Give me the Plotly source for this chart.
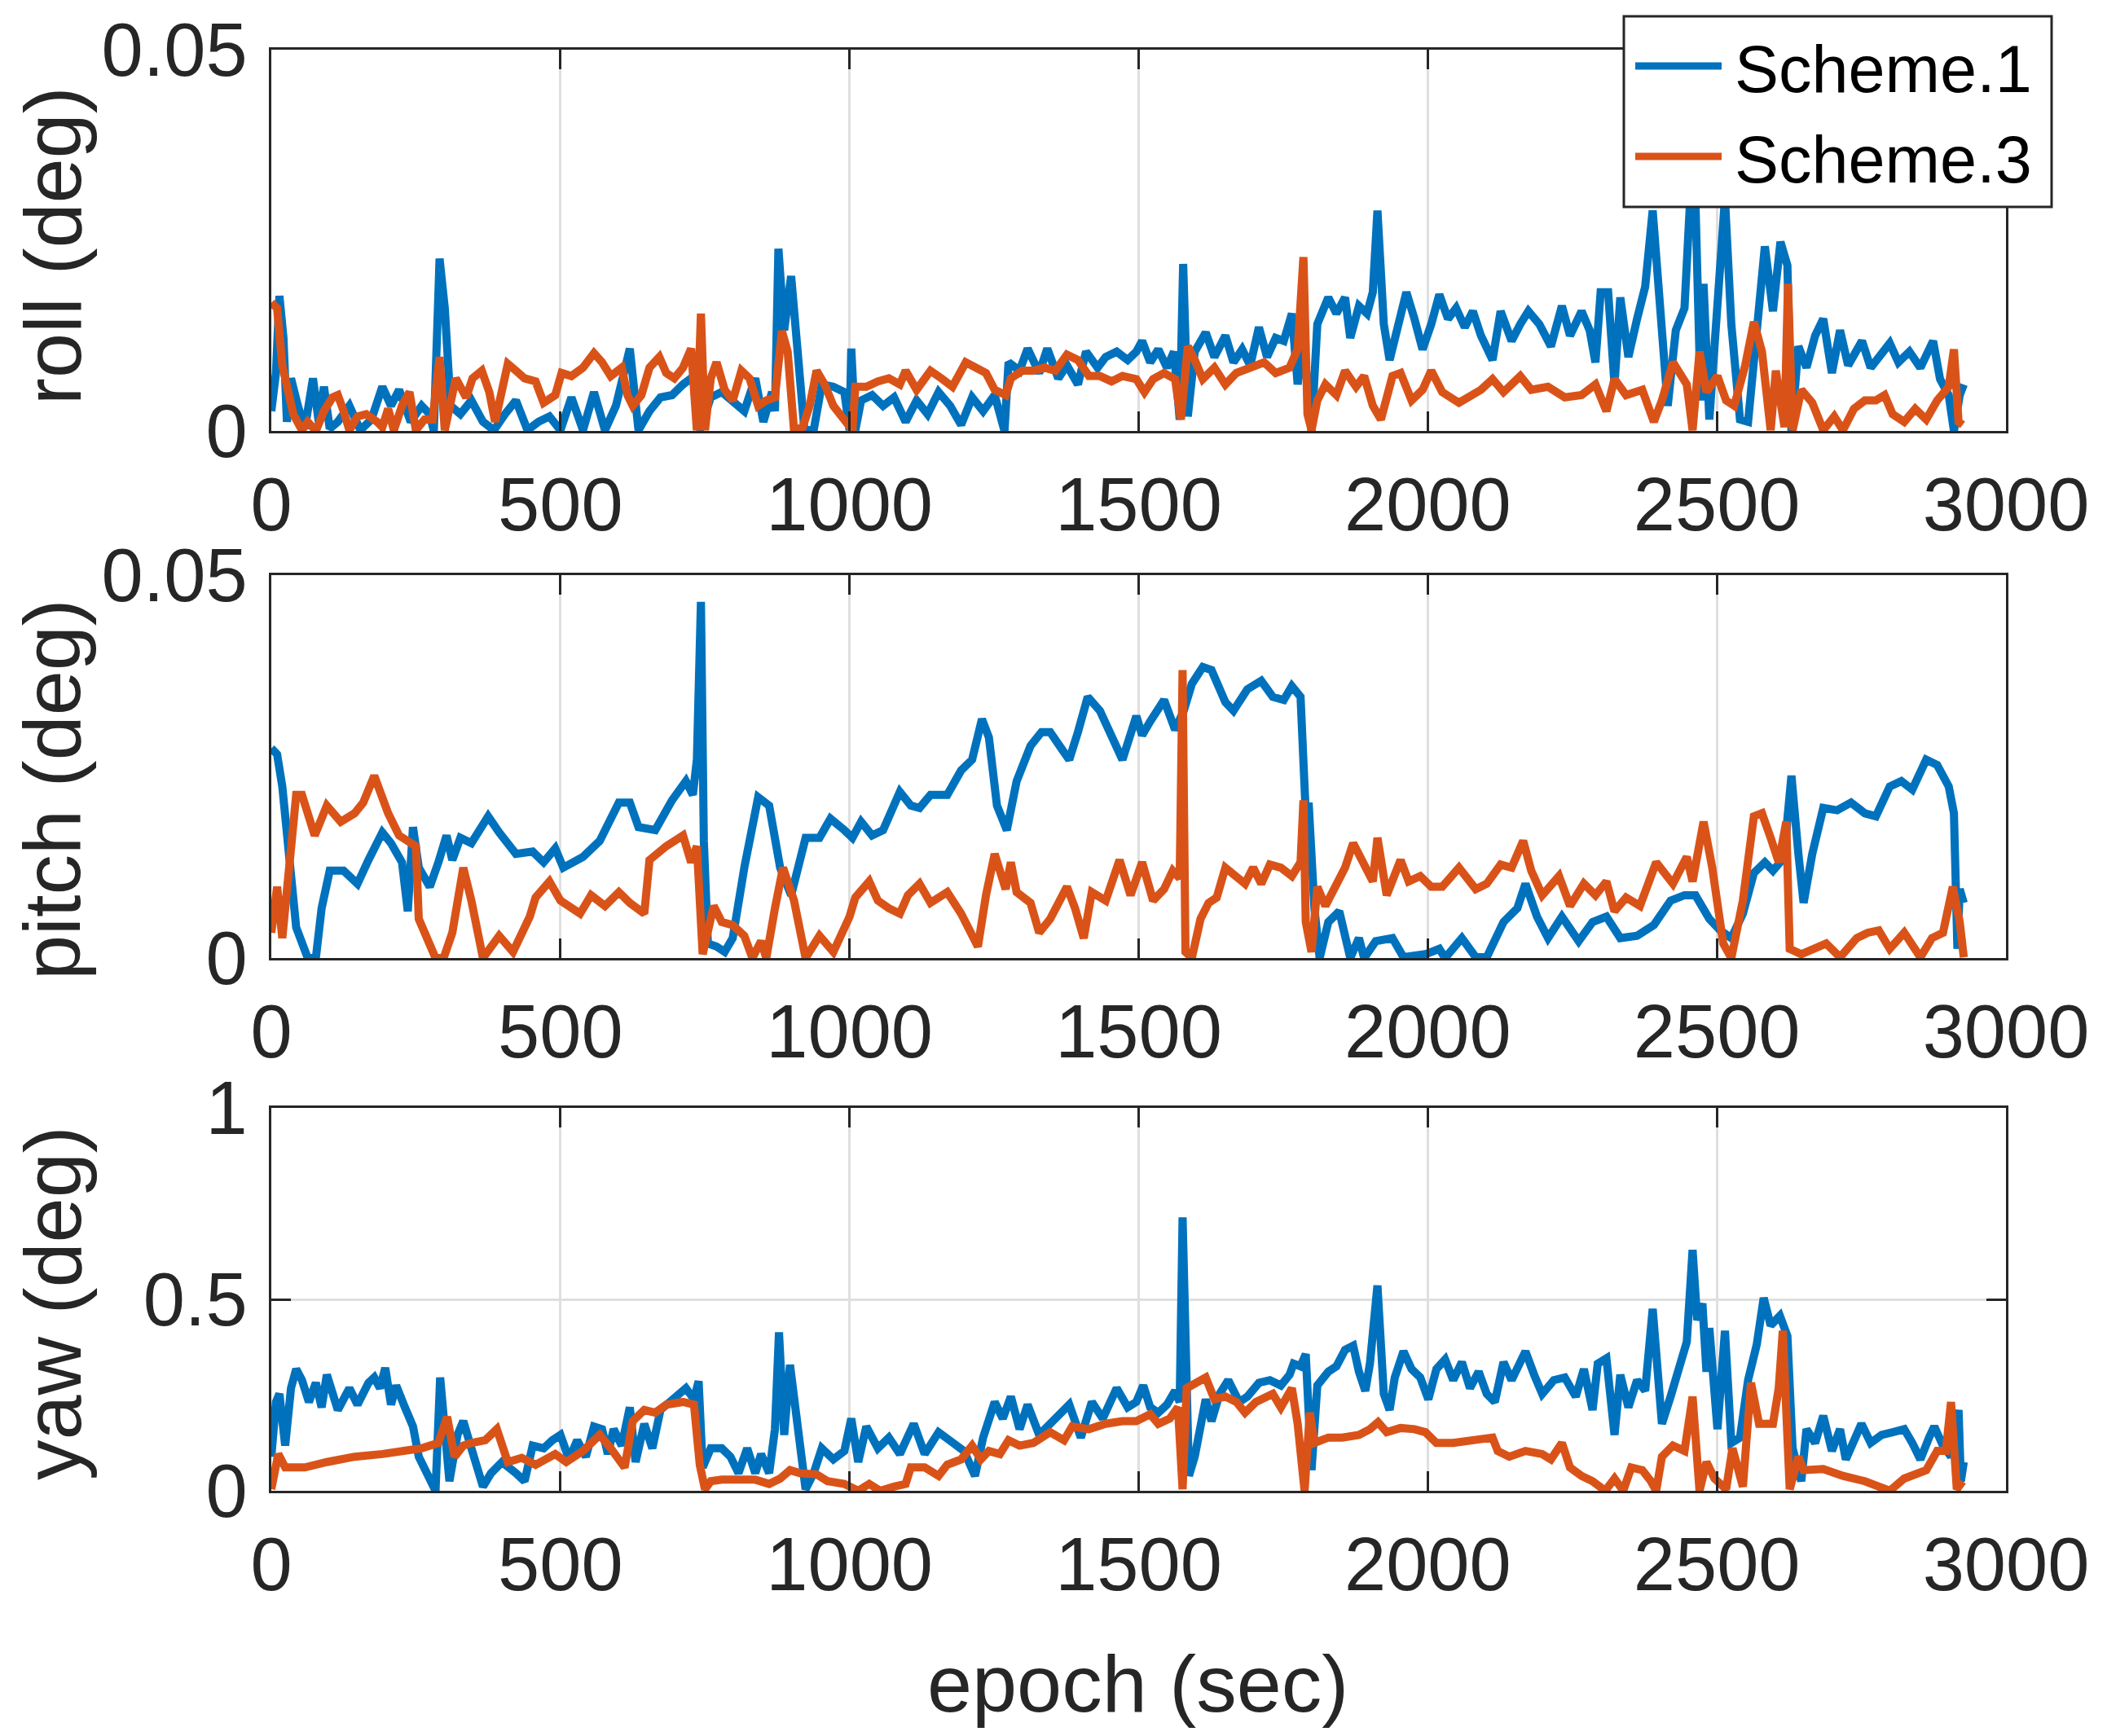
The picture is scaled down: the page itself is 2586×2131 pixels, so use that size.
import plotly.graph_objects as go
from plotly.subplots import make_subplots

# (epoch sec, value)
# roll / pitch values are in 1e-3 deg, yaw values in deg

roll_s1 = [(0, 2.6), (8, 7.6), (14, 17.7), (21, 12.2), (27, 1.2), (34, 6.9), (46, 3.3), (58, 0.3), (72, 6.9),
           (82, 1.2), (91, 5.8), (101, 0.3), (115, 1.2), (135, 3.3), (154, 0.1), (173, 1.5), (192, 5.8),
           (207, 3.3), (221, 5.4), (241, 1.2), (260, 3.3), (274, 2.2), (281, 0), (291, 22.6), (300, 16.1),
           (310, 3.3), (327, 2.2), (346, 4.0), (366, 1.2), (385, 0.1), (404, 2.2), (423, 4.0), (443, 0.1),
           (462, 1.2), (481, 1.9), (500, 0.1), (519, 4.4), (539, 0.1), (558, 5.1), (577, 0.1), (596, 3.3),
           (620, 10.8), (635, 0.1), (654, 2.6), (673, 4.4), (693, 4.7), (712, 6.1), (731, 7.2), (741, 0.1),
           (760, 4.4), (779, 5.1), (798, 4.0), (818, 2.6), (837, 6.9), (851, 1.2), (866, 5.1), (871, 2.6),
           (877, 23.9), (887, 13.2), (899, 20.3), (909, 10.4), (922, 0.1), (938, 0.1), (952, 6.1), (972, 5.8),
           (991, 5.1), (1000, 0.1), (1003, 10.8), (1010, 0.1), (1020, 4.0), (1039, 4.7), (1058, 3.3),
           (1077, 4.4), (1097, 1.2), (1116, 4.0), (1135, 2.2), (1154, 5.1), (1174, 3.3), (1193, 0.8),
           (1212, 4.4), (1231, 2.6), (1251, 4.7), (1268, 0), (1275, 9.0), (1294, 7.9), (1308, 10.8),
           (1328, 7.6), (1342, 10.8), (1361, 6.9), (1376, 8.6), (1395, 6.1), (1409, 10.4), (1429, 8.3),
           (1443, 9.7), (1462, 10.4), (1481, 9.3), (1496, 10.4), (1506, 11.8), (1520, 9.0), (1534, 10.7),
           (1549, 8.3), (1561, 10.4), (1571, 1.5), (1577, 21.9), (1585, 1.9), (1597, 10.4), (1616, 12.9),
           (1631, 9.7), (1650, 12.5), (1664, 9.0), (1679, 10.7), (1693, 8.6), (1708, 13.6), (1722, 9.7),
           (1737, 12.2), (1751, 11.8), (1765, 15.4), (1775, 6.1), (1785, 11.8), (1799, 0), (1809, 14.0),
           (1828, 17.5), (1842, 15.4), (1857, 17.5), (1866, 12.2), (1881, 16.4), (1895, 15.4), (1905, 18.2),
           (1913, 28.9), (1924, 14.0), (1934, 9.3), (1948, 14.0), (1963, 18.2), (1977, 14.7), (1991, 10.7),
           (2006, 14.0), (2020, 17.9), (2035, 14.7), (2049, 16.1), (2064, 13.6), (2078, 15.7), (2092, 12.5),
           (2112, 9.3), (2126, 15.7), (2145, 11.8), (2160, 14.0), (2174, 15.7), (2193, 14.0), (2213, 11.1),
           (2232, 16.4), (2246, 12.5), (2266, 15.7), (2280, 13.2), (2290, 9.0), (2299, 18.2), (2312, 18.2),
           (2323, 6.1), (2333, 17.5), (2347, 9.7), (2362, 14.7), (2376, 18.9), (2389, 28.9), (2400, 18.9),
           (2415, 3.3), (2429, 13.2), (2444, 16.1), (2453, 29.2), (2463, 29.9), (2472, 4.0), (2477, 19.3),
           (2487, 1.5), (2496, 10.4), (2506, 19.3), (2514, 30.5), (2525, 14.0), (2540, 1.5), (2554, 1.2),
           (2569, 14.7), (2583, 24.2), (2597, 15.7), (2610, 24.8), (2622, 21.7), (2629, 0), (2641, 11.1),
           (2655, 8.3), (2670, 12.5), (2684, 14.7), (2699, 7.6), (2713, 13.2), (2727, 8.6), (2742, 10.4),
           (2751, 11.8), (2766, 8.3), (2785, 10.4), (2799, 11.5), (2814, 9.0), (2833, 10.4), (2852, 8.3),
           (2874, 11.8), (2886, 6.8), (2901, 4.7), (2910, 0), (2920, 4.7), (2927, 6.1)]

roll_s3 = [(0, 16.8), (10, 16.1), (19, 8.6), (29, 5.1), (38, 2.2), (53, 0.1), (63, 1.2), (77, 0), (91, 2.6),
           (106, 4.4), (115, 4.7), (125, 2.6), (135, 0.1), (149, 1.9), (164, 2.2), (183, 1.2), (192, 0.5),
           (202, 2.9), (212, 0.1), (226, 3.3), (239, 5.1), (250, 0.1), (265, 1.5), (279, 1.5), (291, 9.7),
           (300, 0.1), (310, 4.0), (319, 6.9), (337, 4.4), (348, 6.9), (364, 7.9), (377, 5.1), (387, 1.2),
           (396, 4.7), (409, 8.8), (423, 7.9), (438, 6.9), (457, 6.5), (471, 3.7), (491, 4.7), (502, 7.6),
           (519, 7.2), (539, 8.3), (558, 10.2), (572, 9.0), (587, 7.2), (606, 8.3), (616, 4.7), (625, 3.3),
           (640, 4.7), (654, 8.3), (671, 9.7), (683, 7.6), (697, 6.9), (712, 8.3), (726, 10.8), (736, 0.1),
           (743, 15.4), (750, 0.1), (760, 6.9), (770, 9.0), (784, 5.4), (798, 4.0), (813, 7.9), (827, 6.9),
           (842, 3.3), (856, 4.0), (871, 4.4), (883, 13.1), (893, 10.4), (904, 0.1), (919, 0.5), (931, 3.3),
           (943, 7.9), (957, 6.1), (972, 3.3), (991, 1.5), (1005, 0.1), (1010, 5.8), (1029, 5.8), (1049, 6.5),
           (1068, 6.9), (1087, 6.1), (1097, 7.9), (1116, 5.4), (1140, 7.9), (1159, 6.9), (1178, 5.8),
           (1201, 9.0), (1217, 8.3), (1236, 7.6), (1251, 5.4), (1270, 4.7), (1279, 6.9), (1299, 7.9),
           (1318, 7.9), (1337, 8.3), (1356, 7.9), (1376, 10.0), (1395, 9.3), (1414, 7.2), (1433, 7.2),
           (1453, 6.5), (1472, 7.2), (1496, 6.8), (1510, 5.1), (1525, 6.8), (1544, 7.6), (1563, 6.8),
           (1573, 1.5), (1585, 11.1), (1597, 9.3), (1611, 6.8), (1631, 8.3), (1650, 6.1), (1669, 7.6),
           (1698, 8.6), (1717, 9.0), (1737, 7.6), (1761, 8.3), (1775, 10.7), (1785, 22.8), (1792, 2.2),
           (1799, 0.1), (1809, 4.0), (1823, 6.1), (1842, 4.7), (1857, 7.9), (1876, 5.8), (1890, 7.2),
           (1905, 3.3), (1919, 1.5), (1939, 7.2), (1953, 7.6), (1972, 4.0), (1991, 5.4), (2006, 7.9),
           (2025, 5.1), (2054, 3.7), (2073, 4.7), (2092, 5.4), (2112, 6.8), (2131, 5.1), (2160, 7.2),
           (2179, 5.4), (2208, 5.8), (2237, 4.4), (2266, 4.7), (2290, 6.1), (2309, 2.6), (2323, 6.8),
           (2343, 4.7), (2371, 5.4), (2391, 1.2), (2405, 4.0), (2424, 9.0), (2448, 6.1), (2458, 0.1),
           (2470, 10.4), (2482, 5.1), (2501, 7.2), (2516, 4.0), (2530, 3.3), (2549, 8.6), (2564, 14.3),
           (2578, 10.4), (2593, 0.1), (2602, 7.9), (2617, 0.5), (2623, 19.3), (2631, 0.1), (2646, 5.4),
           (2665, 3.7), (2684, 0.1), (2703, 1.9), (2718, 0.1), (2737, 2.9), (2756, 4.0), (2775, 4.0),
           (2790, 4.7), (2804, 2.2), (2824, 1.2), (2843, 2.9), (2862, 1.5), (2881, 4.0), (2901, 5.8),
           (2910, 10.7), (2918, 1.2), (2925, 0.8)]

pitch_s1 = [(0, 27.4), (10, 26.6), (19, 22.4), (29, 15.3), (43, 4.0), (63, 0), (77, 0), (87, 6.5), (101, 11.4),
            (125, 11.4), (149, 9.7), (168, 12.8), (192, 16.4), (207, 15.0), (226, 12.5), (236, 6.1),
            (245, 17.1), (255, 11.8), (274, 9.3), (289, 12.5), (303, 16.0), (313, 12.8), (327, 15.7),
            (346, 15.0), (375, 18.5), (394, 16.4), (423, 13.6), (452, 13.9), (471, 12.5), (491, 14.3),
            (505, 11.8), (539, 13.2), (568, 15.3), (601, 20.3), (620, 20.3), (635, 17.1), (664, 16.7),
            (693, 20.6), (717, 23.1), (729, 21.3), (736, 25.9), (743, 46.5), (748, 15.3), (755, 1.9),
            (770, 1.5), (784, 0.8), (798, 2.6), (818, 11.8), (842, 21.0), (861, 19.9), (880, 11.8), (899, 8.2),
            (924, 15.7), (948, 15.7), (967, 18.2), (991, 16.7), (1005, 15.7), (1020, 17.8), (1039, 16.0),
            (1058, 16.7), (1087, 21.7), (1106, 19.9), (1121, 19.6), (1140, 21.3), (1169, 21.3), (1193, 24.5),
            (1212, 25.9), (1229, 31.2), (1241, 28.8), (1255, 19.9), (1272, 16.7), (1289, 23.1), (1313, 27.7),
            (1332, 29.5), (1347, 29.5), (1366, 27.4), (1380, 25.9), (1395, 29.5), (1412, 34.1), (1433, 32.3),
            (1453, 29.1), (1472, 25.9), (1496, 31.6), (1506, 29.1), (1520, 30.9), (1544, 33.7), (1563, 29.8),
            (1578, 32.3), (1592, 35.8), (1611, 38.0), (1626, 37.6), (1650, 33.4), (1664, 32.3), (1688, 35.1),
            (1712, 36.2), (1732, 34.1), (1751, 33.7), (1765, 35.5), (1780, 34.1), (1785, 27.4), (1789, 18.9),
            (1794, 20.3), (1804, 6.5), (1813, 0), (1828, 4.7), (1847, 6.1), (1866, 0), (1881, 2.6), (1890, 0),
            (1910, 2.2), (1939, 2.6), (1958, 0.1), (1996, 0.5), (2020, 1.2), (2030, 0), (2059, 2.6),
            (2083, 0.1), (2102, 0.1), (2131, 4.7), (2155, 6.5), (2169, 9.7), (2189, 5.4), (2208, 2.6),
            (2232, 5.4), (2261, 2.2), (2285, 4.7), (2309, 5.4), (2333, 2.6), (2362, 2.9), (2391, 4.3),
            (2420, 7.5), (2444, 8.2), (2463, 8.2), (2487, 5.1), (2506, 3.6), (2525, 2.6), (2545, 5.8),
            (2564, 11.1), (2583, 12.5), (2597, 11.4), (2617, 13.2), (2622, 18.2), (2629, 23.8), (2641, 13.6),
            (2650, 7.2), (2665, 13.6), (2684, 19.6), (2708, 19.3), (2732, 20.3), (2756, 18.9), (2775, 18.5),
            (2799, 22.4), (2819, 23.1), (2838, 22.0), (2862, 25.9), (2881, 25.2), (2901, 22.4), (2910, 18.9),
            (2916, 1.2), (2920, 9.0), (2927, 7.2)]

pitch_s3 = [(0, 3.3), (10, 9.3), (19, 2.6), (29, 10.0), (43, 21.3), (53, 21.3), (75, 16.0), (96, 19.9),
            (120, 17.8), (144, 18.9), (159, 20.3), (178, 23.8), (202, 18.9), (221, 16.0), (250, 14.6),
            (255, 5.1), (269, 2.9), (284, 0), (298, 0), (313, 3.3), (332, 11.8), (346, 7.5), (366, 0),
            (394, 2.9), (418, 0.8), (447, 5.4), (457, 7.9), (471, 9.0), (481, 10.0), (500, 7.5), (534, 5.8),
            (553, 8.2), (577, 6.8), (601, 8.6), (620, 7.2), (645, 5.8), (654, 12.8), (683, 14.6), (712, 16.0),
            (726, 12.5), (736, 14.6), (746, 0.5), (765, 6.8), (779, 4.7), (798, 4.3), (818, 2.9), (832, 0),
            (847, 2.2), (856, 0), (871, 6.5), (885, 11.8), (904, 7.5), (924, 0), (948, 2.9), (972, 0.8),
            (1000, 5.4), (1010, 7.9), (1034, 10.0), (1049, 7.5), (1068, 6.5), (1087, 5.8), (1101, 8.2),
            (1121, 9.7), (1140, 7.2), (1169, 8.6), (1193, 5.8), (1222, 1.5), (1236, 8.2), (1251, 13.6),
            (1270, 9.0), (1279, 12.5), (1289, 8.6), (1313, 7.2), (1328, 3.3), (1347, 5.1), (1376, 9.3),
            (1390, 6.5), (1405, 2.6), (1419, 8.6), (1443, 7.5), (1467, 12.8), (1486, 8.2), (1496, 10.7),
            (1506, 12.5), (1525, 7.5), (1544, 9.0), (1559, 11.4), (1571, 10.4), (1576, 37.6), (1581, 0.8),
            (1592, 0), (1607, 5.1), (1621, 7.2), (1635, 7.9), (1650, 11.8), (1669, 10.7), (1684, 9.7),
            (1698, 11.8), (1712, 9.7), (1727, 12.2), (1746, 11.8), (1765, 10.7), (1780, 12.5), (1785, 20.6),
            (1789, 4.7), (1799, 0.8), (1809, 9.3), (1823, 6.8), (1842, 9.7), (1857, 11.8), (1871, 15.0),
            (1890, 12.2), (1905, 10.0), (1913, 15.7), (1929, 8.2), (1953, 12.8), (1967, 10.0), (1987, 10.7),
            (2006, 9.3), (2025, 9.3), (2054, 11.8), (2083, 9.0), (2102, 9.7), (2126, 12.2), (2145, 11.8),
            (2165, 15.3), (2179, 11.4), (2198, 8.2), (2227, 10.7), (2246, 6.8), (2270, 9.7), (2290, 8.2),
            (2309, 10.0), (2323, 6.1), (2343, 7.9), (2367, 6.8), (2395, 12.5), (2424, 9.7), (2448, 13.2),
            (2458, 10.0), (2477, 17.8), (2492, 11.8), (2511, 1.9), (2525, 0), (2545, 7.5), (2564, 18.5),
            (2578, 18.9), (2593, 15.7), (2607, 12.5), (2620, 17.8), (2626, 1.2), (2646, 0.5), (2670, 1.2),
            (2689, 1.9), (2713, 0.1), (2742, 2.6), (2761, 3.3), (2780, 3.6), (2799, 1.2), (2824, 3.3),
            (2852, 0.1), (2872, 2.6), (2891, 3.3), (2908, 9.3), (2920, 4.7), (2927, 0.1)]

yaw_s1 = [(0, 0.089), (8, 0.232), (14, 0.253), (24, 0.118), (34, 0.268), (43, 0.318), (53, 0.289), (65, 0.232),
          (77, 0.282), (87, 0.218), (96, 0.303), (106, 0.261), (115, 0.211), (135, 0.268), (149, 0.225),
          (168, 0.282), (178, 0.296), (188, 0.268), (197, 0.321), (207, 0.225), (216, 0.275), (231, 0.218),
          (245, 0.168), (255, 0.089), (269, 0.046), (284, 0), (292, 0.296), (300, 0.125), (308, 0.025),
          (322, 0.146), (332, 0.182), (346, 0.111), (366, 0.011), (380, 0.046), (399, 0.075), (423, 0.046),
          (438, 0.025), (452, 0.118), (471, 0.111), (486, 0.132), (500, 0.146), (515, 0.082), (529, 0.132),
          (544, 0.089), (558, 0.168), (572, 0.161), (582, 0.096), (592, 0.161), (606, 0.118), (620, 0.218),
          (630, 0.075), (645, 0.175), (659, 0.111), (673, 0.211), (693, 0.239), (717, 0.268), (731, 0.239),
          (739, 0.286), (746, 0.061), (760, 0.111), (779, 0.111), (794, 0.089), (808, 0.046), (823, 0.111),
          (837, 0.046), (847, 0.096), (861, 0.046), (871, 0.161), (878, 0.414), (887, 0.146), (897, 0.329),
          (909, 0.175), (924, 0.004), (938, 0.046), (952, 0.111), (972, 0.082), (991, 0.104), (1003, 0.189),
          (1015, 0.075), (1029, 0.168), (1049, 0.111), (1068, 0.139), (1087, 0.096), (1111, 0.175),
          (1130, 0.096), (1154, 0.153), (1174, 0.132), (1198, 0.104), (1217, 0.039), (1231, 0.139),
          (1251, 0.232), (1265, 0.189), (1279, 0.246), (1294, 0.161), (1308, 0.225), (1328, 0.146),
          (1347, 0.175), (1366, 0.204), (1380, 0.225), (1400, 0.139), (1419, 0.232), (1438, 0.189),
          (1462, 0.268), (1481, 0.218), (1496, 0.232), (1508, 0.275), (1520, 0.218), (1534, 0.204),
          (1549, 0.225), (1563, 0.261), (1571, 0.232), (1576, 0.714), (1583, 0.146), (1587, 0.039),
          (1597, 0.089), (1607, 0.175), (1616, 0.239), (1626, 0.182), (1640, 0.253), (1655, 0.289),
          (1674, 0.232), (1688, 0.246), (1708, 0.282), (1727, 0.289), (1746, 0.275), (1761, 0.303),
          (1768, 0.332), (1780, 0.325), (1789, 0.357), (1799, 0.054), (1809, 0.275), (1828, 0.311),
          (1842, 0.325), (1857, 0.368), (1871, 0.379), (1881, 0.311), (1892, 0.261), (1900, 0.332),
          (1913, 0.536), (1924, 0.253), (1934, 0.211), (1943, 0.296), (1958, 0.364), (1972, 0.318),
          (1987, 0.296), (2001, 0.239), (2015, 0.318), (2030, 0.343), (2044, 0.289), (2059, 0.336),
          (2073, 0.268), (2088, 0.311), (2102, 0.253), (2116, 0.232), (2131, 0.336), (2145, 0.289),
          (2155, 0.318), (2169, 0.364), (2184, 0.303), (2198, 0.253), (2218, 0.289), (2237, 0.296),
          (2256, 0.246), (2270, 0.318), (2285, 0.211), (2294, 0.332), (2309, 0.346), (2323, 0.146),
          (2333, 0.303), (2347, 0.218), (2362, 0.289), (2376, 0.261), (2389, 0.475), (2405, 0.175),
          (2420, 0.246), (2434, 0.311), (2448, 0.389), (2458, 0.629), (2466, 0.446), (2475, 0.489),
          (2482, 0.311), (2487, 0.425), (2501, 0.161), (2514, 0.418), (2525, 0.125), (2540, 0.139),
          (2554, 0.289), (2569, 0.382), (2581, 0.504), (2593, 0.432), (2609, 0.457), (2622, 0.404),
          (2631, 0.111), (2646, 0.025), (2655, 0.161), (2670, 0.125), (2684, 0.196), (2699, 0.104),
          (2713, 0.161), (2723, 0.082), (2737, 0.125), (2750, 0.175), (2766, 0.125), (2785, 0.146),
          (2804, 0.153), (2824, 0.161), (2838, 0.125), (2852, 0.082), (2867, 0.139), (2876, 0.168),
          (2891, 0.118), (2905, 0.089), (2918, 0.211), (2922, 0.025), (2927, 0.075)]

yaw_s3 = [(0, 0.004), (12, 0.096), (24, 0.061), (58, 0.061), (96, 0.075), (144, 0.089), (192, 0.096),
          (231, 0.104), (260, 0.111), (289, 0.125), (304, 0.193), (317, 0.089), (332, 0.118), (346, 0.125),
          (370, 0.132), (390, 0.161), (409, 0.075), (433, 0.086), (457, 0.068), (491, 0.096), (510, 0.075),
          (539, 0.104), (568, 0.146), (587, 0.111), (611, 0.061), (625, 0.182), (645, 0.211), (664, 0.204),
          (683, 0.225), (712, 0.232), (731, 0.225), (741, 0.068), (750, 0.004), (760, 0.025), (779, 0.029),
          (808, 0.029), (837, 0.029), (861, 0.018), (880, 0.032), (897, 0.054), (914, 0.046), (943, 0.043),
          (962, 0.025), (991, 0.018), (1015, 0), (1034, 0.018), (1053, 0), (1077, 0.011), (1097, 0.018),
          (1106, 0.061), (1130, 0.061), (1154, 0.039), (1169, 0.068), (1193, 0.082), (1212, 0.118),
          (1227, 0.082), (1241, 0.104), (1260, 0.096), (1275, 0.132), (1294, 0.118), (1318, 0.125),
          (1347, 0.153), (1371, 0.132), (1385, 0.168), (1414, 0.161), (1443, 0.175), (1472, 0.182),
          (1496, 0.182), (1520, 0.200), (1534, 0.175), (1554, 0.189), (1568, 0.218), (1576, 0.004),
          (1583, 0.268), (1597, 0.282), (1616, 0.296), (1631, 0.239), (1650, 0.246), (1669, 0.232),
          (1684, 0.204), (1703, 0.232), (1732, 0.253), (1746, 0.218), (1765, 0.268), (1775, 0.175),
          (1787, 0), (1796, 0.204), (1804, 0.125), (1828, 0.139), (1852, 0.139), (1881, 0.146),
          (1900, 0.161), (1914, 0.179), (1929, 0.153), (1953, 0.164), (1977, 0.161), (1996, 0.153),
          (2015, 0.125), (2044, 0.125), (2073, 0.132), (2112, 0.139), (2121, 0.104), (2141, 0.089),
          (2169, 0.104), (2198, 0.096), (2213, 0.082), (2232, 0.125), (2246, 0.061), (2266, 0.039),
          (2285, 0.025), (2307, 0), (2323, 0.032), (2338, 0), (2352, 0.061), (2371, 0.054), (2386, 0.025),
          (2395, 0), (2405, 0.089), (2424, 0.118), (2444, 0.104), (2458, 0.246), (2470, 0), (2482, 0.075),
          (2496, 0.032), (2516, 0.004), (2527, 0.111), (2545, 0.011), (2559, 0.282), (2573, 0.175),
          (2597, 0.175), (2607, 0.268), (2614, 0.418), (2626, 0.004), (2641, 0.089), (2650, 0.054),
          (2684, 0.057), (2718, 0.039), (2756, 0.025), (2799, 0), (2824, 0.032), (2862, 0.054),
          (2881, 0.104), (2896, 0.104), (2905, 0.232), (2915, 0.004), (2925, 0.025)]

x_ticks = [0, 500, 1000, 1500, 2000, 2500, 3000]
roll_ticks = [0, 0.05]
roll_ticktext = ['0', '0.05']
yaw_ticks = [0, 0.5, 1]
yaw_ticktext = ['0', '0.5', '1']
series_names = ['Scheme.1', 'Scheme.3']
panel_titles = ['roll (deg)', 'pitch (deg)', 'yaw (deg)']

BLUE = '#0072BD'
ORANGE = '#D95319'
INK = '#262626'
FONT = 'Liberation Sans, Arial, Helvetica, sans-serif'


def unzip(pairs, scale=1.0):
    return [p[0] for p in pairs], [p[1] * scale for p in pairs]


fig = make_subplots(rows=3, cols=1)

panels = [(roll_s1, roll_s3, 1e-3), (pitch_s1, pitch_s3, 1e-3), (yaw_s1, yaw_s3, 1.0)]
for row, (s1, s3, scale) in enumerate(panels, start=1):
    for pairs, color, name in [(s1, BLUE, series_names[0]), (s3, ORANGE, series_names[1])]:
        x, y = unzip(pairs, scale)
        fig.add_trace(go.Scatter(x=x, y=y, mode='lines', name=name, showlegend=False,
                                 line=dict(color=color, width=10)), row=row, col=1)

x_dom = [333 / 2586, 2462 / 2586]
y_doms = [[1 - 529 / 2131, 1 - 61 / 2131],
          [1 - 1176 / 2131, 1 - 706 / 2131],
          [1 - 1830 / 2131, 1 - 1360 / 2131]]

axis_common = dict(showline=True, linecolor=INK, linewidth=3, mirror='ticks', automargin=False,
                   ticks='inside', ticklen=24, tickwidth=3, tickcolor=INK,
                   showgrid=True, gridcolor='#dfdfdf', gridwidth=3, zeroline=False,
                   tickfont=dict(family=FONT, size=92, color=INK))

for i in range(3):
    fig.update_xaxes(domain=x_dom, range=[0, 3000], tickvals=x_ticks, ticklabelstandoff=9,
                     row=i + 1, col=1, **axis_common)
    if i < 2:
        fig.update_yaxes(domain=y_doms[i], range=[0, 0.05], tickvals=roll_ticks, ticktext=roll_ticktext,
                         ticklabelstandoff=8, row=i + 1, col=1, **axis_common)
    else:
        fig.update_yaxes(domain=y_doms[i], range=[0, 1], tickvals=yaw_ticks, ticktext=yaw_ticktext,
                         ticklabelstandoff=8, row=i + 1, col=1, **axis_common)

# y labels (placed by hand, MATLAB style)
title_y = [1 - 302 / 2131, 1 - 969 / 2131, 1 - 1600 / 2131]
for txt, yy in zip(panel_titles, title_y):
    fig.add_annotation(text=txt, xref='paper', yref='paper', x=64 / 2586, y=yy, textangle=-90,
                       showarrow=False, xanchor='center', yanchor='middle',
                       font=dict(family=FONT, size=99, color=INK))

fig.add_annotation(text='epoch (sec)', xref='paper', yref='paper', x=1396 / 2586, y=1 - 2066 / 2131,
                   showarrow=False, xanchor='center', yanchor='middle', borderpad=0,
                   font=dict(family=FONT, size=99, color=INK))

# legend box drawn by hand so the line samples are long like in MATLAB
fig.add_shape(type='rect', xref='paper', yref='paper', x0=1993 / 2586, x1=2518 / 2586,
              y0=1 - 254 / 2131, y1=1 - 20 / 2131, fillcolor='white',
              line=dict(color=INK, width=3), layer='above')
for name, color, ly in [(series_names[0], BLUE, 81), (series_names[1], ORANGE, 192)]:
    fig.add_shape(type='line', xref='paper', yref='paper', x0=2007 / 2586, x1=2113 / 2586,
                  y0=1 - ly / 2131, y1=1 - ly / 2131, line=dict(color=color, width=9), layer='above')
    fig.add_annotation(text=name, xref='paper', yref='paper', x=2127 / 2586, y=1 - (ly + 4) / 2131,
                       showarrow=False, xanchor='left', yanchor='middle',
                       font=dict(family=FONT, size=81, color='black'))

fig.update_layout(width=2586, height=2131, margin=dict(l=0, r=0, t=0, b=0, autoexpand=False),
                  paper_bgcolor='white', plot_bgcolor='white', showlegend=False)

fig.write_html("out.html", config={'displayModeBar': False},
               post_script="document.body.style.margin='0px';")
